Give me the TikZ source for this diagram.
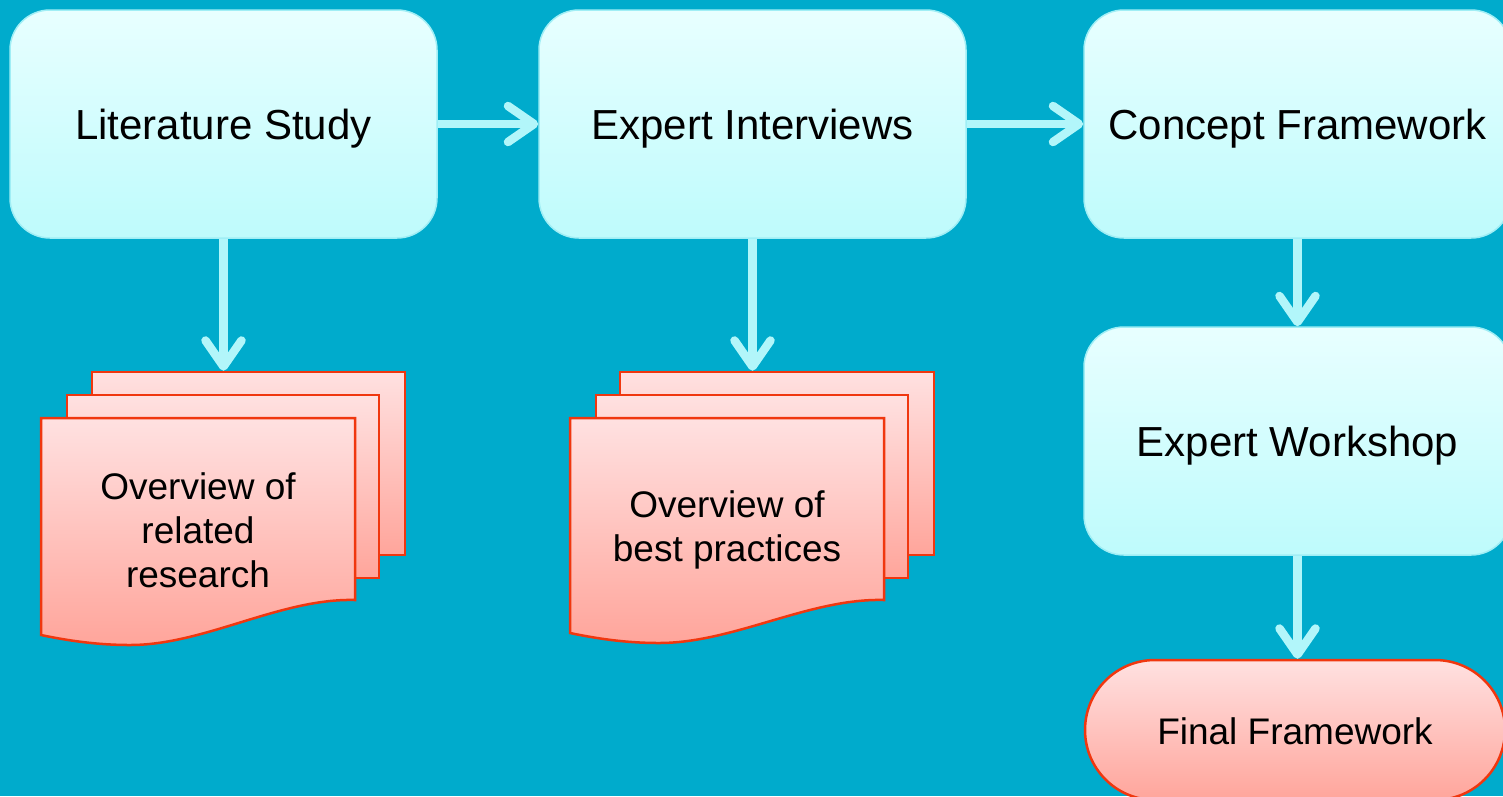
\documentclass[tikz,border=0pt]{standalone}
\usepackage{fontspec}
\setmainfont{Liberation Sans}
\usetikzlibrary{arrows.meta}
\definecolor{bgc}{RGB}{0,171,204}
\definecolor{arrc}{RGB}{178,246,250}
\definecolor{boxtop}{RGB}{232,255,255}
\definecolor{boxbot}{RGB}{190,251,252}
\definecolor{boxline}{RGB}{160,238,245}
\definecolor{redline}{RGB}{240,55,15}
\definecolor{redtop}{RGB}{255,225,225}
\definecolor{redbot}{RGB}{255,165,155}
\tikzset{
  procbox/.style={draw=boxline, line width=1.5pt, rounded corners=40pt,
    top color=boxtop, bottom color=boxbot, minimum width=427pt, minimum height=228pt,
    font=\fontsize{42}{50}\selectfont, text=black, inner sep=0pt,
    text height=30pt, text depth=0pt},
  docsheet/.style={draw=redline, line width=2.5pt, top color=redtop, bottom color=redbot},
  doctext/.style={font=\fontsize{37}{44}\selectfont, align=center, text=black, inner sep=0pt},
  flow/.style={draw=arrc, line width=8.5pt, -{Straight Barb[length=26pt,width=36pt,round]}},
}
\begin{document}
\begin{tikzpicture}[x=1pt,y=-1pt]
\fill[bgc] (0,0) rectangle (1503,796);
\useasboundingbox (0,0) rectangle (1503,796);

% process boxes
\node[procbox] (lit) at (223.5,124) {Literature Study};
\node[procbox] (exp) at (752.5,124) {Expert Interviews};
\node[procbox] (con) at (1297.5,124) {Concept Framework};
\node[procbox] (work) at (1297.5,441) {Expert Workshop};

% final framework
\begin{scope}
\clip (0,0) rectangle (1503,796);
\node[draw=redline, line width=2.5pt, rounded corners=70pt, top color=redtop, bottom color=redbot,
  minimum width=420pt, minimum height=140pt, inner sep=0pt] (fin) at (1295,730) {};
\end{scope}
\node[font=\fontsize{37}{44}\selectfont, inner sep=0pt, text height=26pt, text depth=0pt] (fintext) at (1295,731) {Final Framework};

% document stack A
\node[docsheet, minimum width=313pt, minimum height=183pt, inner sep=0pt] (docA3) at (248.5,463.5) {};
\node[docsheet, minimum width=312pt, minimum height=183pt, inner sep=0pt] (docA2) at (223,486.5) {};
\path[docsheet] (41,418) -- (355,418) -- (355,600)
  .. controls (280,598) and (205,645) .. (130,645)
  .. controls (95,645) and (65,640) .. (41,635) -- cycle;
\node[doctext] (docAtext) at (198,530) {Overview of\\related\\research};

% document stack B
\node[docsheet, minimum width=314pt, minimum height=183pt, inner sep=0pt] (docB3) at (777,463.5) {};
\node[docsheet, minimum width=312pt, minimum height=183pt, inner sep=0pt] (docB2) at (752,486.5) {};
\path[docsheet] (570,418) -- (884,418) -- (884,600)
  .. controls (809,598) and (734,643) .. (659,643)
  .. controls (624,643) and (594,638) .. (570,633) -- cycle;
\node[doctext] (docBtext) at (727,530) {Overview of\\best practices};

% connectors
\draw[flow] (lit.east) -- (exp.west);
\draw[flow] (exp.east) -- (con.west);
\draw[flow] (lit.south) -- (lit.south |- docA3.north);
\draw[flow] (exp.south) -- (exp.south |- docB3.north);
\draw[flow] (con.south) -- (work.north);
\draw[flow] (work.south) -- (work.south |- fin.north);
\end{tikzpicture}
\end{document}
